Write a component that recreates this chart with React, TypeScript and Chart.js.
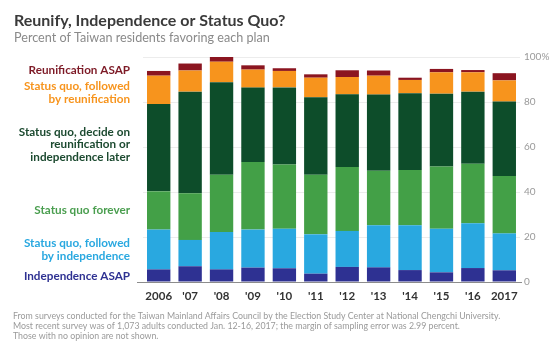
import React, { useEffect, useRef } from "react";
import { Chart, registerables } from "chart.js";

Chart.register(...registerables);

const years = ["2006", "'07", "'08", "'09", "'10", "'11", "'12", "'13", "'14", "'15", "'16", "2017"];
const independenceAsap = [5.6, 7.0, 5.6, 6.4, 6.1, 3.7, 6.7, 6.5, 5.3, 4.3, 6.2, 5.2];
const sqThenIndependence = [17.7, 11.7, 16.6, 16.9, 17.6, 17.5, 16.0, 18.7, 19.9, 19.4, 19.9, 16.4];
const sqForever = [17.0, 20.7, 25.5, 30.0, 28.5, 26.5, 28.4, 24.3, 24.6, 27.6, 26.5, 25.5];
const sqDecideLater = [38.8, 45.2, 41.1, 33.1, 34.3, 34.4, 32.3, 33.8, 34.1, 32.4, 32.0, 33.1];
const sqThenReunification = [12.6, 9.4, 9.1, 8.0, 7.3, 8.7, 7.7, 8.4, 5.9, 9.5, 8.6, 9.4];
const reunificationAsap = [2.1, 3.1, 2.1, 1.9, 1.2, 1.5, 3.0, 2.3, 1.0, 1.5, 1.0, 3.2];

const yTicks = [0, 20, 40, 60, 80, 100];

const seriesLabels = [
  ["Independence ASAP"],
  ["Status quo, followed", "by independence"],
  ["Status quo forever"],
  ["Status quo, decide on", "reunification or", "independence later"],
  ["Status quo, followed", "by reunification"],
  ["Reunification ASAP"],
];
const seriesData = [independenceAsap, sqThenIndependence, sqForever, sqDecideLater, sqThenReunification, reunificationAsap];
const barColors = ["#2e3192", "#29a8e0", "#43a047", "#0d4d2a", "#f7941d", "#8b1520"];
const labelColors = ["#2e3192", "#29a8e0", "#4a9e4f", "#1c4a30", "#f7941d", "#7d1a26"];
const labelNudges = [1, 0, 0, -3, 3, -3];

const FONT = "Lato, 'Open Sans', sans-serif";

const textPlugin = {
  id: "textPlugin",
  afterDraw(chart: any) {
    const ctx = chart.ctx;
    const y = chart.scales.y;
    ctx.save();
    ctx.textAlign = "left";
    ctx.textBaseline = "alphabetic";
    ctx.fillStyle = "#3a3a3a";
    ctx.font = `bold 16px ${FONT}`;
    ctx.fillText("Reunify, Independence or Status Quo?", 14, 26);
    ctx.fillStyle = "#8a8a8a";
    ctx.font = `12.6px ${FONT}`;
    ctx.fillText("Percent of Taiwan residents favoring each plan", 14, 42);
    ctx.fillStyle = "#9a9a9a";
    ctx.font = `8.8px ${FONT}`;
    const notes = [
      "From surveys conducted for the Taiwan Mainland Affairs Council by the Election Study Center at National Chengchi University.",
      "Most recent survey was of 1,073 adults conducted Jan. 12-16, 2017; the margin of sampling error was 2.99 percent.",
      "Those with no opinion are not shown.",
    ];
    ctx.textBaseline = "middle";
    notes.forEach((n, i) => ctx.fillText(n, 13, 316 + i * 10));
    ctx.textAlign = "right";
    ctx.font = `bold 11.7px ${FONT}`;
    let base = 0;
    seriesData.forEach((arr, i) => {
      const v = arr[0];
      const mid = y.getPixelForValue(base + v / 2) + labelNudges[i];
      base += v;
      const lines = seriesLabels[i];
      const lh = 12.5;
      const start = mid - ((lines.length - 1) * lh) / 2;
      ctx.fillStyle = labelColors[i];
      lines.forEach((l, j) => ctx.fillText(l, 130, start + j * lh));
    });
    ctx.strokeStyle = "#8c8c8c";
    ctx.lineWidth = 1;
    ctx.beginPath();
    const by = Math.round(y.getPixelForValue(0)) + 0.5;
    ctx.moveTo(137, by);
    ctx.lineTo(chart.chartArea.right + 2, by);
    ctx.stroke();
    ctx.restore();
  },
};

export default function App() {
  const ref = useRef<HTMLCanvasElement | null>(null);
  useEffect(() => {
    if (!ref.current) return;
    const chart = new Chart(ref.current, {
      type: "bar",
      data: {
        labels: years,
        datasets: seriesData.map((d, i) => ({
          label: seriesLabels[i].join(" "),
          data: d,
          backgroundColor: barColors[i],
          borderWidth: 0,
          categoryPercentage: 0.8,
          barPercentage: 0.93,
        })),
      },
      options: {
        responsive: false,
        animation: false,
        devicePixelRatio: 1,
        layout: { padding: { left: 143, right: 0, top: 57, bottom: 54 } },
        plugins: { legend: { display: false }, tooltip: { enabled: false }, title: { display: false } },
        scales: {
          x: {
            stacked: true,
            grid: { display: false, drawTicks: false },
            border: { display: false },
            ticks: { color: "#333", font: { family: FONT, size: 11.5, weight: "bold" }, padding: 7, maxRotation: 0 },
            afterFit: (s: any) => { s.height = 20; },
          },
          y: {
            stacked: true,
            position: "right",
            min: 0,
            max: 100,
            afterBuildTicks: (s: any) => { s.ticks = yTicks.map((v) => ({ value: v })); },
            grid: { color: "#ececec", drawTicks: false },
            border: { display: false },
            ticks: {
              color: "#9a9a9a",
              font: { family: FONT, size: 10 },
              padding: 4,
              callback: (v: any) => (v === 100 ? "100%" : String(v)),
            },
            afterFit: (s: any) => { s.width = 40; },
          },
        },
      },
      plugins: [textPlugin],
    });
    return () => chart.destroy();
  }, []);
  return (
    <div style={{ position: "absolute", left: 0, top: 0, width: 560, height: 356, background: "#fff" }}>
      <canvas ref={ref} width={560} height={356} />
    </div>
  );
}
